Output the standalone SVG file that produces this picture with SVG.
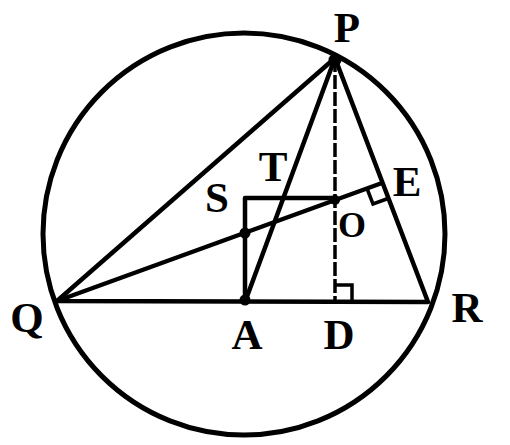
<svg xmlns="http://www.w3.org/2000/svg" width="510" height="445" viewBox="0 0 510 445">
<style>
.ln{stroke:#000;stroke-width:4.5;fill:none;stroke-linecap:round;stroke-linejoin:round}
.th{stroke:#000;stroke-width:3.5;fill:none}
.lb{font-family:"Liberation Serif","Times New Roman",serif;font-weight:bold;font-size:43px;fill:#000;text-anchor:middle}
.dot{fill:#000}
</style>
<rect width="510" height="445" fill="#fff"/>
<g id="circle"><circle cx="244" cy="234" r="201" class="ln" style="stroke-width:5"/></g>
<g id="connectors">
<path class="ln" d="M335,58 L57,301 L428,302 Z"/>
<path class="ln" d="M335,58 L245,302"/>
<path class="ln" d="M57,301 L382,183"/>
<path class="ln" d="M245,302 L245,198 L335,198"/>
<path class="th" d="M335,58 L335,302" stroke-dasharray="14,3"/>
<path class="th" d="M335,285 L352,285 L352,302"/>
<path class="th" d="M367,188.5 L373,204 L388,198.5"/>
</g>
<g id="dots">
<circle class="dot" cx="335" cy="60" r="6.5"/>
<circle class="dot" cx="245" cy="233" r="5.5"/>
<circle class="dot" cx="245" cy="300" r="5.5"/>
<circle class="dot" cx="335" cy="200" r="5"/>
</g>
<g id="P"><text class="lb" x="347" y="42">P</text></g>
<g id="Q"><text class="lb" x="27" y="332">Q</text></g>
<g id="R"><text class="lb" x="467" y="322">R</text></g>
<g id="A"><text class="lb" x="247" y="349">A</text></g>
<g id="D"><text class="lb" x="339" y="349">D</text></g>
<g id="S"><text class="lb" x="217" y="212">S</text></g>
<g id="T"><text class="lb" x="273" y="181">T</text></g>
<g id="E"><text class="lb" x="407" y="196">E</text></g>
<g id="O"><text class="lb" x="352" y="237" style="font-size:36px">O</text></g>
</svg>
